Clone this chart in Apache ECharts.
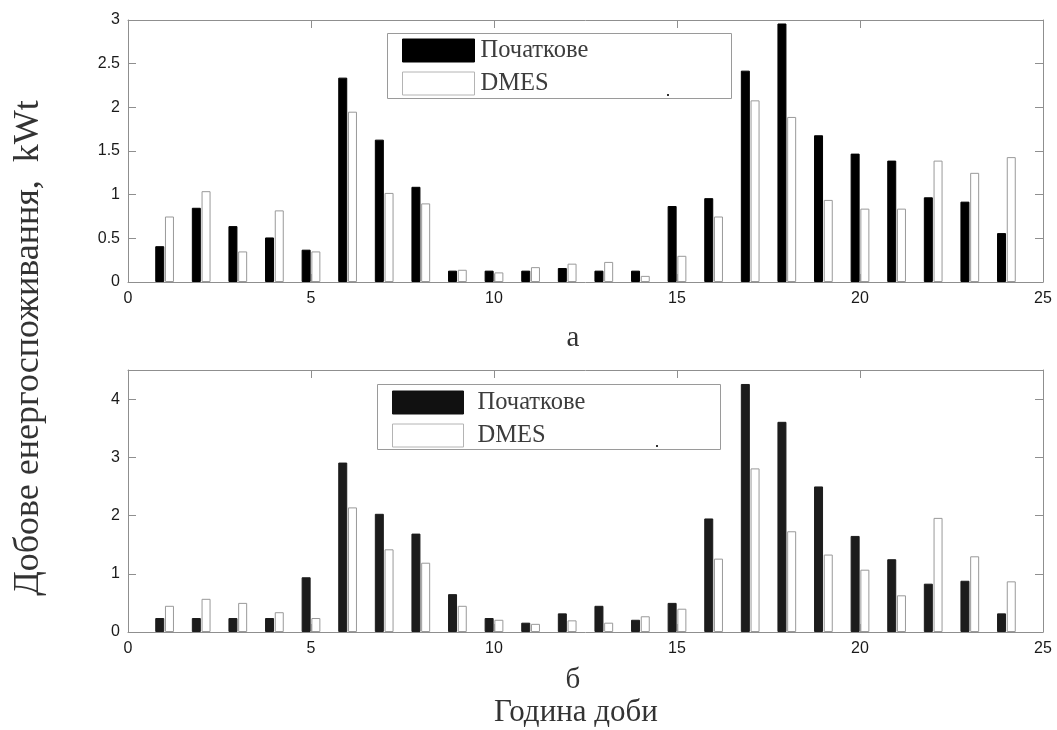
<!DOCTYPE html>
<html>
<head>
<meta charset="utf-8">
<script src="https://cdn.jsdelivr.net/npm/echarts@6/dist/echarts.min.js"></script>
<style>
  html, body { margin: 0; padding: 0; background: #fff; }
  #chart { width: 1057px; height: 730px; }
</style>
</head>
<body>
<div id="chart"></div>
<script>
// Hour of the day
const hours = [1, 2, 3, 4, 5, 6, 7, 8, 9, 10, 11, 12, 13, 14, 15, 16, 17, 18, 19, 20, 21, 22, 23, 24];

// Panel "а": daily energy consumption, kWt
const initialA = [0.41, 0.85, 0.64, 0.51, 0.37, 2.34, 1.63, 1.09, 0.13, 0.13, 0.13, 0.16, 0.13, 0.13, 0.87, 0.96, 2.42, 2.96, 1.68, 1.47, 1.39, 0.97, 0.92, 0.56];
const dmesA    = [0.75, 1.04, 0.35, 0.82, 0.35, 1.95, 1.02, 0.90, 0.14, 0.11, 0.17, 0.21, 0.23, 0.07, 0.30, 0.75, 2.08, 1.89, 0.94, 0.84, 0.84, 1.39, 1.25, 1.43];

// Panel "б"
const initialB = [0.24, 0.24, 0.24, 0.24, 0.94, 2.91, 2.03, 1.69, 0.65, 0.24, 0.16, 0.32, 0.45, 0.21, 0.50, 1.95, 4.26, 3.61, 2.50, 1.65, 1.25, 0.83, 0.88, 0.32];
const dmesB    = [0.45, 0.57, 0.50, 0.34, 0.24, 2.14, 1.42, 1.19, 0.45, 0.21, 0.14, 0.20, 0.16, 0.27, 0.40, 1.26, 2.81, 1.73, 1.33, 1.07, 0.63, 1.96, 1.30, 0.87];

const seriesNames = ['Початкове', 'DMES'];
const panelLabels = ['а', 'б'];
const xTitle = 'Година доби';
const yTitle = 'Добове енергоспоживання,  kWt';

const AXIS_COLOR = '#8f8f8f';
const LABEL_FONT = { fontFamily: 'Liberation Sans', fontSize: 16, color: '#1a1a1a' };
const SERIF = 'Liberation Serif';

const pairs = (vals) => hours.map((h, i) => [h, vals[i]]);

function xAxes(gridIndex) {
  const base = {
    gridIndex, type: 'value', min: 0, max: 25, interval: 5,
    splitLine: { show: false },
    axisLine: { show: true, onZero: false, lineStyle: { color: AXIS_COLOR, width: 1 } },
    axisTick: { show: true, inside: true, length: 8, lineStyle: { color: AXIS_COLOR } }
  };
  return [
    Object.assign({}, base, { position: 'bottom', axisLabel: Object.assign({ margin: 9 }, LABEL_FONT) }),
    Object.assign({}, base, { position: 'top', axisLabel: { show: false } })
  ];
}

function yAxes(gridIndex, max, interval) {
  const base = {
    gridIndex, type: 'value', min: 0, max, interval,
    splitLine: { show: false },
    axisLine: { show: true, onZero: false, lineStyle: { color: AXIS_COLOR, width: 1 } },
    axisTick: { show: true, inside: true, length: 8, lineStyle: { color: AXIS_COLOR } }
  };
  return [
    Object.assign({}, base, { position: 'left',
      axisLabel: Object.assign({ margin: 8, showMaxLabel: Number.isInteger(max / interval) }, LABEL_FONT) }),
    Object.assign({}, base, { position: 'right', axisLabel: { show: false } })
  ];
}

function barSeries(name, vals, axisIdx, fill, border) {
  return {
    name, type: 'bar', xAxisIndex: axisIdx, yAxisIndex: axisIdx,
    data: pairs(vals), barWidth: 9, barGap: '8%',
    itemStyle: { color: fill, borderColor: border, borderWidth: 1 },
    emphasis: { disabled: true },
    animation: false
  };
}

function legendFor(top, left, swatchWidth, textGap, darkFill) {
  return {
    top, left, orient: 'vertical', padding: 0,
    itemWidth: swatchWidth, itemHeight: 23, itemGap: 8,
    icon: 'rect', selectedMode: false,
    data: [
      { name: seriesNames[0], itemStyle: { color: darkFill, borderColor: darkFill, borderWidth: 1 } },
      { name: seriesNames[1], itemStyle: { color: '#ffffff', borderColor: '#b4b4b4', borderWidth: 1 } }
    ],
    textStyle: { fontFamily: SERIF, fontSize: 24.5, lineHeight: 23, color: '#3c3c3c', padding: [0, 0, 0, textGap] }
  };
}

const chart = echarts.init(document.getElementById('chart'), null, { renderer: 'canvas' });

chart.setOption({
  backgroundColor: '#ffffff',
  animation: false,
  grid: [
    { left: 128, top: 20, width: 915, height: 262 },
    { left: 128, top: 370, width: 915, height: 262 }
  ],
  xAxis: [...xAxes(0), ...xAxes(1)],
  yAxis: [...yAxes(0, 3, 0.5), ...yAxes(1, 4.5, 1)],
  legend: [legendFor(38, 402, 72, 1, '#000000'), legendFor(390, 392, 71, 9, '#111111')],
  series: [
    barSeries(seriesNames[0], initialA, 0, '#000000', '#000000'),
    barSeries(seriesNames[1], dmesA, 0, '#ffffff', '#999999'),
    barSeries(seriesNames[0], initialB, 2, '#1c1c1c', '#1c1c1c'),
    barSeries(seriesNames[1], dmesB, 2, '#ffffff', '#999999')
  ],
  graphic: [
    // legend frames
    { type: 'rect', z: -1, shape: { x: 387.5, y: 33.5, width: 344, height: 65 },
      style: { fill: '#fff', stroke: '#9a9a9a', lineWidth: 1 } },
    { type: 'rect', z: -1, shape: { x: 377.5, y: 384.5, width: 343, height: 65 },
      style: { fill: '#fff', stroke: '#9a9a9a', lineWidth: 1 } },
    { type: 'rect', shape: { x: 667, y: 94, width: 2, height: 2 }, style: { fill: '#333' } },
    { type: 'rect', shape: { x: 656, y: 445, width: 2, height: 2 }, style: { fill: '#333' } },
    // panel captions and axis titles
    { type: 'text', x: 573, y: 338, style: { text: panelLabels[0], font: '29px "' + SERIF + '"', fill: '#333', align: 'center', verticalAlign: 'middle' } },
    { type: 'text', x: 573, y: 680, style: { text: panelLabels[1], font: '29px "' + SERIF + '"', fill: '#333', align: 'center', verticalAlign: 'middle' } },
    { type: 'text', x: 576, y: 713, style: { text: xTitle, font: '31px "' + SERIF + '"', fill: '#333', align: 'center', verticalAlign: 'middle' } },
    { type: 'text', x: 29, y: 348, rotation: Math.PI / 2,
      style: { text: yTitle, font: '36px "' + SERIF + '"', fill: '#333', align: 'center', verticalAlign: 'middle' } }
  ]
});
</script>
</body>
</html>
